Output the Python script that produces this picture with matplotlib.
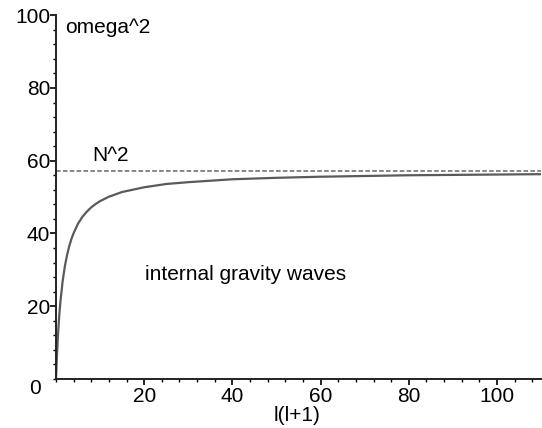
import matplotlib
matplotlib.use("Agg")
import matplotlib.pyplot as plt
from matplotlib.ticker import MultipleLocator

plt.rcParams["font.family"] = ["Liberation Sans", "DejaVu Sans"]

# values
l_l1 = [0, 0.25, 0.5, 0.75, 1, 1.5, 2, 2.5, 3, 3.5, 4, 5, 6, 7, 8, 9, 10,
        12, 15, 20, 25, 30, 40, 50, 60, 70, 80, 90, 100, 110]
omega2 = [0, 7.3, 13.0, 17.6, 21.2, 26.8, 30.9, 34.0, 36.5, 38.5, 40.1,
          42.7, 44.6, 46.0, 47.2, 48.1, 48.9, 50.1, 51.4, 52.7, 53.6, 54.1,
          54.9, 55.3, 55.6, 55.8, 56.0, 56.1, 56.2, 56.3]
N2 = 57.2
x_ticks = [20, 40, 60, 80, 100]
y_ticks = [20, 40, 60, 80, 100]

fig = plt.figure(figsize=(5.42, 4.28), dpi=100)
ax = fig.add_axes([0.1033, 0.1145, 0.895, 0.850])

ax.axhline(N2, color="#666666", linewidth=1.1, linestyle=(0, (3, 1.5)))
ax.plot(l_l1, omega2, color="#5a5a5a", linewidth=1.6)

ax.set_xlim(0, 110)
ax.set_ylim(0, 100)
for side in ("top", "right"):
    ax.spines[side].set_visible(False)
for side in ("left", "bottom"):
    ax.spines[side].set_linewidth(1.4)
    ax.spines[side].set_color("#222222")

ax.set_xticks(x_ticks)
ax.set_yticks(y_ticks)
ax.xaxis.set_minor_locator(MultipleLocator(4))
ax.yaxis.set_minor_locator(MultipleLocator(4))
ax.tick_params(which="major", length=4, width=1.2, labelsize=15, pad=2)
ax.tick_params(axis="y", which="major", pad=0.3)
ax.tick_params(which="minor", length=2, width=1.0)

ax.text(-3.5, -2.5, "0", fontsize=15, ha="right", va="center", clip_on=False)
ax.text(2.0, 96.7, "omega^2", fontsize=15, ha="left", va="center")
ax.text(8.2, 61.5, "N^2", fontsize=15, ha="left", va="center")
ax.text(20.2, 28.6, "internal gravity waves", fontsize=15, ha="left", va="center")
ax.text(54.6, -9.9, "l(l+1)", fontsize=15, ha="center", va="center", clip_on=False)

fig.savefig("out.png", dpi=100)
